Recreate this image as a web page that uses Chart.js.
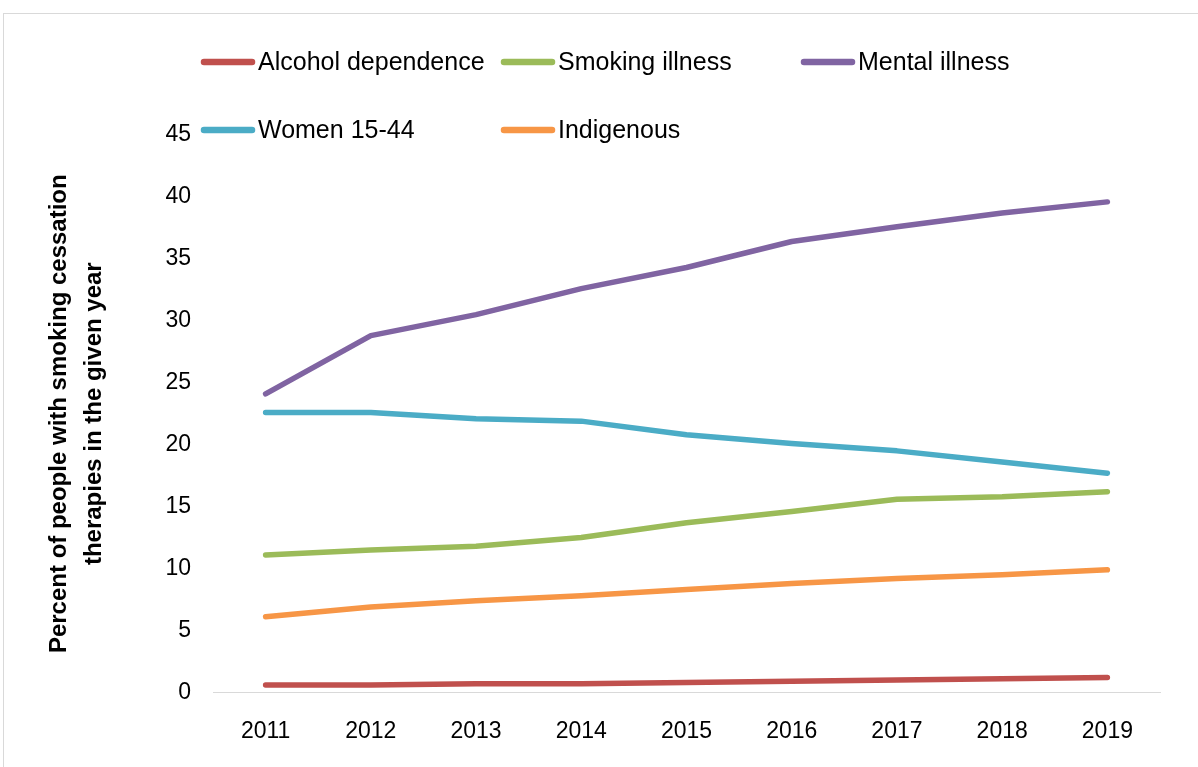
<!DOCTYPE html>
<html>
<head>
<meta charset="utf-8">
<script src="https://cdn.jsdelivr.net/npm/chart.js@4"></script>
<style>
  html, body { margin: 0; padding: 0; background: #fff; overflow: hidden; }
  #frame { position: absolute; left: 3px; top: 13px; width: 1200px; height: 770px; border: 1px solid #d9d9d9; }
  #wrap { position: absolute; left: 0; top: 0; width: 1198px; height: 767px; }
</style>
</head>
<body>
<div id="frame"></div>
<div id="wrap"><canvas id="c"></canvas></div>
<script>
const years = ['2011', '2012', '2013', '2014', '2015', '2016', '2017', '2018', '2019'];
const alcohol = [0.6, 0.6, 0.7, 0.7, 0.8, 0.9, 1.0, 1.1, 1.2];
const smoking = [11.1, 11.5, 11.8, 12.5, 13.7, 14.6, 15.6, 15.8, 16.2];
const mental = [24.1, 28.8, 30.5, 32.6, 34.3, 36.4, 37.6, 38.7, 39.6];
const women = [22.6, 22.6, 22.1, 21.9, 20.8, 20.1, 19.5, 18.6, 17.7];
const indigenous = [6.1, 6.9, 7.4, 7.8, 8.3, 8.8, 9.2, 9.5, 9.9];
const yTitle = ['Percent of people with smoking cessation', 'therapies in the given year'];

const FONT = "'Liberation Sans', Arial, sans-serif";

function ds(label, data, color) {
  return {
    label: label, data: data, borderColor: color, backgroundColor: color,
    borderWidth: 5.5, pointRadius: 0, tension: 0, borderCapStyle: 'round', borderJoinStyle: 'round'
  };
}

// legend drawn by hand so it can sit over the top of the plot, like the original
const legendSlots = [[200, 62], [500, 62], [800, 62], [200, 130], [500, 130]];
const overlayLegend = {
  id: 'overlayLegend',
  afterDraw(chart) {
    const ctx = chart.ctx;
    ctx.save();
    ctx.font = '25px ' + FONT;
    ctx.textBaseline = 'middle';
    chart.data.datasets.forEach((d, i) => {
      const [x, y] = legendSlots[i];
      ctx.strokeStyle = d.borderColor;
      ctx.lineWidth = 6.5;
      ctx.lineCap = 'round';
      ctx.beginPath();
      ctx.moveTo(x + 4, y);
      ctx.lineTo(x + 52, y);
      ctx.stroke();
      ctx.fillStyle = '#000';
      ctx.fillText(d.label, x + 58, y + 1);
    });
    ctx.restore();
  }
};

new Chart(document.getElementById('c'), {
  type: 'line',
  data: {
    labels: years,
    datasets: [
      ds('Alcohol dependence', alcohol, '#C0504D'),
      ds('Smoking illness', smoking, '#9BBB59'),
      ds('Mental illness', mental, '#8064A2'),
      ds('Women 15-44', women, '#4BACC6'),
      ds('Indigenous', indigenous, '#F79646')
    ]
  },
  options: {
    responsive: true,
    maintainAspectRatio: false,
    animation: false,
    layout: { padding: { top: 135, right: 38, bottom: -3, left: 42 } },
    plugins: { legend: { display: false }, tooltip: { enabled: false } },
    scales: {
      x: {
        offset: true,
        grid: { display: false, drawTicks: false },
        border: { display: true, color: '#d9d9d9', width: 1 },
        ticks: { color: '#000', font: { family: FONT, size: 23 }, padding: 25, maxRotation: 0 }
      },
      y: {
        min: 0, max: 45,
        grid: { display: false, drawTicks: false },
        border: { display: false },
        ticks: { stepSize: 5, color: '#000', font: { family: FONT, size: 23 }, padding: 22 },
        title: {
          display: true, text: yTitle, color: '#000',
          font: { family: FONT, size: 24, weight: 'bold', lineHeight: 1.45 }, padding: { top: 0, bottom: 0 }
        },
        afterFit(scale) { scale.width = 171; }
      }
    }
  },
  plugins: [overlayLegend]
});
</script>
</body>
</html>
